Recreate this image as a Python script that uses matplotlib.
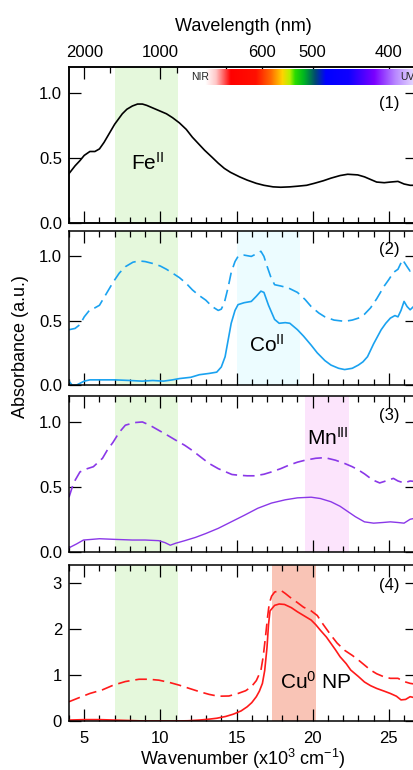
import matplotlib
matplotlib.use("Agg")
import matplotlib.pyplot as plt
import numpy as np
from matplotlib.colors import LinearSegmentedColormap

plt.rcParams['font.family'] = ['Liberation Sans', 'DejaVu Sans']
plt.rcParams['mathtext.fontset'] = 'custom'
plt.rcParams['mathtext.rm'] = 'Liberation Sans'
plt.rcParams['mathtext.it'] = 'Liberation Sans:italic'

# ---------------- data ----------------
x_fe = [4.0,4.4,4.72,5.0,5.37,5.7,6.0,6.3,6.65,7.0,7.5,7.8,8.16,8.5,8.82,9.1,9.5,10.0,10.4,10.8,11.25,11.7,12.1,12.5,12.9,13.4,13.8,14.2,14.6,15.2,15.7,16.3,16.8,17.4,17.9,18.5,19.0,19.6,20.1,20.7,21.2,21.8,22.3,22.96,23.4,23.8,24.2,24.7,25.1,25.6,26.0,26.4,26.8]
y_fe = [0.38,0.44,0.48,0.52,0.55,0.55,0.57,0.62,0.69,0.76,0.84,0.875,0.90,0.915,0.915,0.905,0.885,0.86,0.84,0.81,0.77,0.72,0.66,0.61,0.56,0.505,0.46,0.42,0.39,0.355,0.33,0.305,0.29,0.278,0.275,0.278,0.283,0.29,0.305,0.325,0.345,0.365,0.375,0.37,0.355,0.335,0.315,0.31,0.315,0.32,0.30,0.29,0.29]

x_co_d = [4.0,4.4,4.72,5.0,5.37,5.7,6.0,6.4,6.9,7.3,7.7,8.2,8.6,9.0,9.5,10.0,10.4,10.8,11.25,11.7,12.1,12.5,12.98,13.4,13.8,14.0,14.2,14.45,14.65,14.9,15.1,15.5,15.97,16.3,16.6,16.8,17.0,17.25,17.5,17.9,18.4,19.0,19.5,19.9,20.4,20.8,21.4,22.1,22.6,23.0,23.4,23.8,24.2,24.7,25.0,25.3,25.6,25.9,26.2,26.4,26.8]
y_co_d = [0.43,0.44,0.47,0.53,0.585,0.60,0.62,0.70,0.80,0.87,0.92,0.955,0.965,0.96,0.945,0.925,0.90,0.87,0.835,0.79,0.74,0.70,0.66,0.61,0.58,0.59,0.64,0.76,0.875,0.96,1.0,1.01,1.0,1.02,1.04,1.0,0.925,0.84,0.78,0.77,0.755,0.72,0.665,0.61,0.56,0.53,0.505,0.495,0.505,0.52,0.55,0.60,0.67,0.77,0.82,0.875,0.90,0.975,0.92,0.885,0.93]

x_co_s = [4.0,4.2,4.5,5.0,5.37,6.0,7.0,8.0,8.8,9.5,10.2,10.8,11.25,12.0,12.56,13.2,13.7,14.0,14.25,14.45,14.65,14.9,15.1,15.5,15.97,16.3,16.6,16.8,17.1,17.5,17.8,18.2,18.5,19.0,19.4,19.9,20.3,20.8,21.2,21.7,22.1,22.6,23.0,23.3,23.6,24.0,24.5,24.8,25.1,25.4,25.6,25.8,26.0,26.2,26.4,26.8]
y_co_s = [0.03,0.0,0.0,0.03,0.04,0.04,0.04,0.035,0.03,0.035,0.03,0.04,0.05,0.06,0.08,0.09,0.10,0.14,0.22,0.35,0.48,0.58,0.625,0.64,0.65,0.69,0.73,0.72,0.62,0.51,0.48,0.485,0.48,0.43,0.38,0.31,0.25,0.19,0.155,0.13,0.12,0.13,0.155,0.18,0.22,0.32,0.43,0.48,0.52,0.54,0.53,0.58,0.65,0.61,0.585,0.63]

x_mn_d = [4.0,4.3,4.72,5.2,5.6,6.2,6.5,6.9,7.3,7.7,8.3,8.82,9.3,9.9,10.5,11.0,11.6,12.1,12.7,13.2,13.8,14.3,14.7,15.1,15.7,16.2,16.8,17.3,17.9,18.4,19.0,19.5,20.2,20.8,21.5,22.1,22.6,23.0,23.4,23.8,24.1,24.4,24.8,25.3,25.6,26.0,26.4,26.8]
y_mn_d = [0.42,0.53,0.615,0.64,0.655,0.72,0.78,0.845,0.92,0.975,0.995,1.0,0.975,0.935,0.895,0.86,0.82,0.78,0.725,0.68,0.64,0.615,0.595,0.59,0.585,0.585,0.597,0.615,0.64,0.665,0.69,0.705,0.72,0.725,0.705,0.68,0.655,0.63,0.60,0.565,0.545,0.53,0.545,0.565,0.545,0.53,0.545,0.54]

x_mn_s = [4.0,4.5,4.95,5.5,6.0,7.0,8.16,9.0,9.9,10.3,10.65,11.0,11.6,12.3,12.98,13.8,14.65,15.5,16.4,17.3,18.2,19.0,19.9,20.5,21.2,21.8,22.3,22.8,23.4,24.0,24.6,25.1,25.6,26.0,26.4,26.8]
y_mn_s = [0.03,0.06,0.09,0.095,0.10,0.095,0.09,0.09,0.085,0.07,0.05,0.065,0.085,0.11,0.14,0.18,0.23,0.28,0.335,0.375,0.40,0.415,0.42,0.41,0.385,0.35,0.31,0.27,0.23,0.22,0.225,0.23,0.225,0.22,0.25,0.26]

x_cu_d = [4.0,4.6,5.37,6.2,6.9,7.7,8.6,9.2,9.9,10.6,11.25,11.9,12.56,13.2,13.8,14.5,15.1,15.6,15.97,16.3,16.6,16.75,16.9,17.05,17.15,17.3,17.5,17.9,18.2,18.5,19.0,19.4,19.9,20.3,20.7,21.2,21.6,22.1,22.6,23.0,23.4,23.8,24.2,24.7,25.1,25.6,26.0,26.4,26.8]
y_cu_d = [0.42,0.5,0.60,0.68,0.78,0.86,0.91,0.91,0.89,0.84,0.78,0.71,0.64,0.58,0.54,0.545,0.60,0.66,0.745,0.88,1.1,1.4,1.83,2.3,2.56,2.72,2.81,2.85,2.78,2.70,2.58,2.48,2.40,2.30,2.10,1.87,1.70,1.54,1.43,1.33,1.22,1.11,1.03,0.96,0.93,0.93,0.86,0.82,0.80]

x_cu_s = [4.0,5.0,6.0,7.0,8.0,9.0,10.0,11.0,11.8,12.56,13.2,13.7,14.3,14.8,15.3,15.7,16.0,16.3,16.5,16.7,16.85,17.0,17.1,17.2,17.5,17.8,18.15,18.6,19.0,19.5,19.9,20.2,20.5,20.9,21.2,21.5,21.8,22.2,22.5,23.0,23.4,23.8,24.2,24.7,25.1,25.5,25.8,26.1,26.4,26.8]
y_cu_s = [0.02,0.03,0.03,0.02,0.01,0.0,0.0,0.0,0.005,0.02,0.04,0.06,0.10,0.15,0.22,0.31,0.40,0.53,0.65,0.82,1.1,1.6,2.1,2.4,2.52,2.55,2.54,2.47,2.38,2.28,2.2,2.1,1.98,1.83,1.69,1.55,1.40,1.25,1.11,0.97,0.85,0.77,0.71,0.65,0.60,0.54,0.46,0.47,0.53,0.50]

fe_band = (7.0, 11.15)
co_band = (15.0, 19.2)
mn_band = (19.5, 22.4)
cu_band = (17.35, 20.25)

wl_major = [2000, 1000, 400]
wl_minor = [1500, 900, 700, 600, 500]
wl_minor_labels = ['', '', '', '600', '500']

spec_pos = [0.0, 0.05, 0.12, 0.24, 0.31, 0.365, 0.40, 0.425, 0.465, 0.52, 0.57, 0.68, 0.80, 0.90, 1.0]
spec_col = ['#ffffff', '#ffc8c8', '#ff0000', '#ff1000', '#ff6a00', '#ffd400', '#b4f000', '#2adc00',
            '#00b820', '#004a70', '#0000ff', '#1000ff', '#7a00ff', '#b888ff', '#ece4ff']

# ---------------- figure ----------------
W, H = 414, 770
fig = plt.figure(figsize=(W/100, H/100), dpi=100)

left = 69/W
width = (417-69)/W
panels_px = [(67, 223), (230.7, 385), (396, 551.7), (565, 721)]
ylims = [(0, 1.2), (0, 1.2), (0, 1.2), (0, 3.4)]
xlim = (4.0, 26.85)

axes = []
for (top, bot), yl in zip(panels_px, ylims):
    ax = fig.add_axes([left, 1 - bot/H, width, (bot-top)/H])
    ax.set_xlim(*xlim)
    ax.set_ylim(*yl)
    for s in ax.spines.values():
        s.set_linewidth(1.1)
    ax.set_xticks(np.arange(5, 27, 5))
    ax.set_xticks(np.arange(4, 27, 1), minor=True)
    ax.tick_params(which='major', direction='in', length=8.5, width=0.9, labelsize=12,
                   top=True, right=True, pad=5)
    ax.tick_params(which='minor', direction='in', length=4.5, width=0.9, top=True, right=False)
    ax.tick_params(axis='y', which='minor', left=False, right=False)
    ax.tick_params(axis='x', labelbottom=False)
    axes.append(ax)

ax1, ax2, ax3, ax4 = axes
for ax in (ax1, ax2, ax3):
    ax.set_yticks([0.0, 0.5, 1.0])
    ax.set_yticklabels(['0.0', '0.5', '1.0'])
ax4.set_yticks([0, 1, 2, 3])
ax4.tick_params(axis='x', labelbottom=True, pad=7)
ax4.set_xlabel(r'Wavenumber (x10$^{3}$ cm$^{-1}$)', fontsize=13, labelpad=1)
ax1.tick_params(axis='x', which='both', top=False)

# bands
band_green = '#e5f8dc'
for ax in axes:
    ax.axvspan(*fe_band, color=band_green, lw=0, zorder=0)
ax2.axvspan(*co_band, color='#ecfcff', lw=0, zorder=0)
ax3.axvspan(*mn_band, color='#fce4fc', lw=0, zorder=0)
ax4.axvspan(*cu_band, color='#f9c4b6', lw=0, zorder=0)

dash = (0, (7, 3.5))
ax1.plot(x_fe, y_fe, color='black', lw=1.2)
ax2.plot(x_co_d, y_co_d, color='#1aa2f0', lw=1.2, ls=dash)
ax2.plot(x_co_s, y_co_s, color='#1aa2f0', lw=1.2)
ax3.plot(x_mn_d, y_mn_d, color='#8a38e8', lw=1.2, ls=dash)
ax3.plot(x_mn_s, y_mn_s, color='#8a38e8', lw=1.0)
ax4.plot(x_cu_d, y_cu_d, color='#ff1a1a', lw=1.2, ls=dash)
ax4.plot(x_cu_s, y_cu_s, color='#ff1a1a', lw=1.2)

# annotations
ax1.text(9.13, 0.46, r'Fe$^{\mathrm{II}}$', fontsize=15, ha='center', va='center')
ax2.text(17.0, 0.31, r'Co$^{\mathrm{II}}$', fontsize=15, ha='center', va='center')
ax3.text(20.97, 0.875, r'Mn$^{\mathrm{III}}$', fontsize=15, ha='center', va='center')
ax4.text(20.2, 0.86, r'Cu$^{0}$ NP', fontsize=15, ha='center', va='center')
for ax, yy, lab in [(ax1, 0.92, '(1)'), (ax2, 1.05, '(2)'), (ax3, 1.05, '(3)'), (ax4, 2.96, '(4)')]:
    ax.text(25.05, yy, lab, fontsize=12, ha='center', va='center')

# top wavelength axis
axt = ax1.twiny()
axt.set_xlim(*xlim)
axt.set_xticks([1e4/w for w in wl_major])
axt.set_xticklabels([str(w) for w in wl_major])
axt.set_xticks([1e4/w for w in wl_minor], minor=True)
axt.set_xticklabels(wl_minor_labels, minor=True)
axt.tick_params(which='major', direction='in', length=8.5, width=0.9, labelsize=12, pad=5)
axt.tick_params(which='minor', direction='in', length=4.5, width=0.9, labelsize=12, pad=5)
axt.set_xlabel('Wavelength (nm)', fontsize=13, labelpad=10)
for s in axt.spines.values():
    s.set_linewidth(1.1)

# spectrum bar
cmap = LinearSegmentedColormap.from_list('spec', list(zip(spec_pos, spec_col)))
axc = fig.add_axes([205/W, 1 - 85/H, (417-205)/W, (85-68.5)/H])
axc.imshow(np.linspace(0, 1, 256)[None, :], aspect='auto', cmap=cmap, extent=[0, 1, 0, 1])
axc.set_axis_off()
fig.text(200/W, 1 - 76.5/H, 'NIR', fontsize=7.5, ha='center', va='center', color='#222222')
fig.text(407/W, 1 - 77.5/H, 'UV', fontsize=7.5, ha='center', va='center', color='#222222')

fig.text(21/W, 1 - 347/H, 'Absorbance (a.u.)', rotation=90, fontsize=13, ha='center', va='center')

fig.savefig('out.png', dpi=100)
